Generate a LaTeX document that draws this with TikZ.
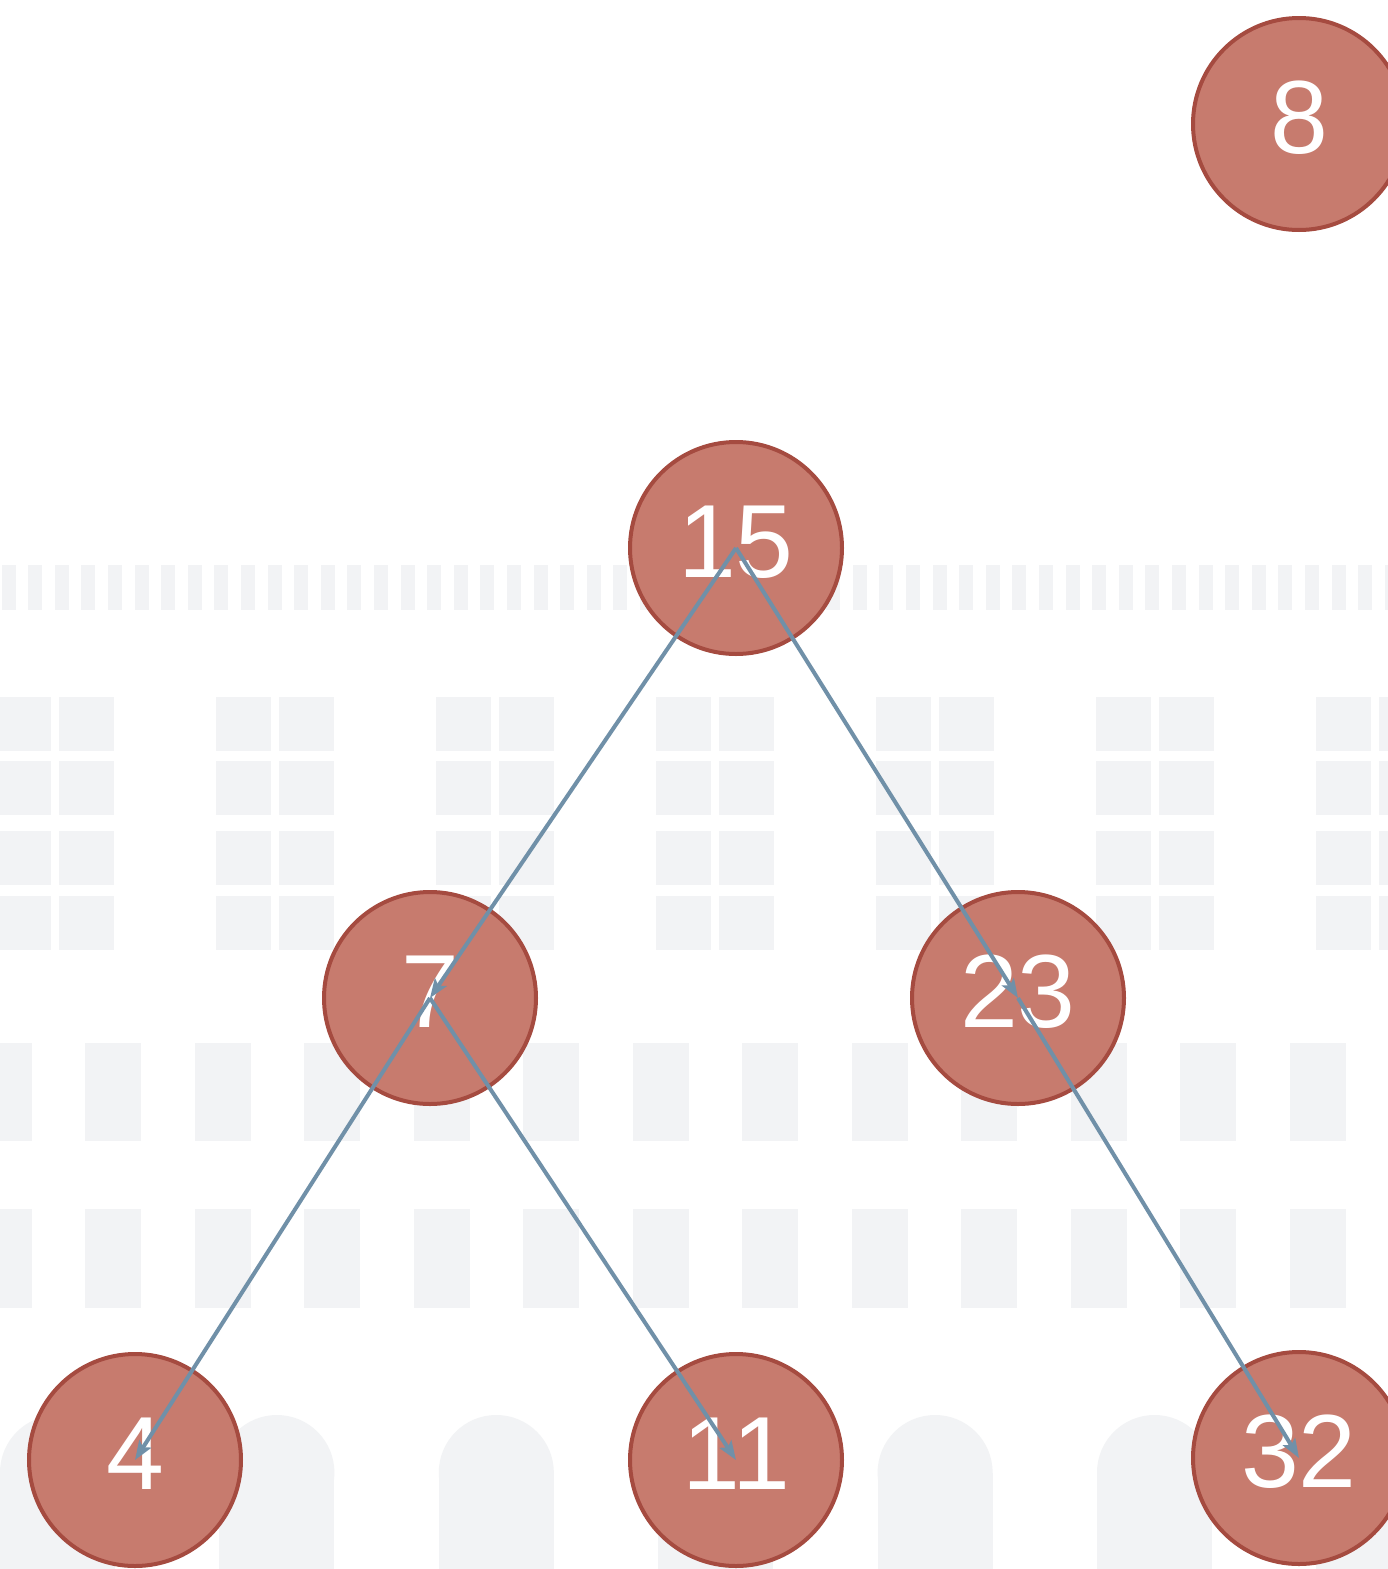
\documentclass[tikz,border=0pt]{standalone}
\usepackage{fontspec}
\setmainfont{Liberation Sans}
\usetikzlibrary{arrows.meta}
\definecolor{bggray}{HTML}{F2F3F5}
\definecolor{nodefill}{HTML}{C77B6E}
\definecolor{nodeline}{HTML}{A54B40}
\definecolor{edgecol}{HTML}{7090A8}
\tikzset{
  bgshape/.style={fill=bggray},
  treenode/.style={circle,fill=nodefill,draw=nodeline,line width=4pt,minimum size=212pt,inner sep=0pt,
    text=white,font=\fontsize{104}{104}\selectfont,text height=75pt,text depth=16pt},
  treeedge/.style={draw=edgecol,line width=4pt,-{Stealth[length=19pt,width=14pt,inset=4pt]}}
}
\begin{document}
\begin{tikzpicture}[x=1pt,y=-1pt]
\useasboundingbox (0,0) rectangle (1388,1569);
\clip (0,0) rectangle (1388,1569);
\fill[white] (0,0) rectangle (1388,1569);
% strip of small bars
\foreach \k in {0,...,52} \fill[bgshape] ({1.5+26.6*\k},565) rectangle +(14,45);
% grid of squares
\foreach \g in {0,...,6} {
  \foreach \yy in {697,761,831,896} {
    \fill[bgshape] ({-4+220*\g},\yy) rectangle +(55,54);
    \fill[bgshape] ({59+220*\g},\yy) rectangle +(55,54);
  }
}
% two bands of rectangles
\foreach \k in {0,...,12} {
  \fill[bgshape] ({-24.5+109.5*\k},1043) rectangle +(56,98);
  \fill[bgshape] ({-24.5+109.5*\k},1209) rectangle +(56,99);
}
% arches
\foreach \k in {0,...,6} {
  \fill[bgshape] ({57.5+219.4*\k},1472.5) circle[radius=57.5];
  \fill[bgshape] ({219.4*\k},1472.5) rectangle +(115,100);
}
% nodes
\node[treenode] (n8)  at (1299,124)  {8};
\node[treenode] (n15) at (736,548)   {15};
\node[treenode] (n7)  at (430,998)   {7};
\node[treenode] (n23) at (1018,998)  {23};
\node[treenode] (n4)  at (135,1460)  {4};
\node[treenode] (n11) at (736,1460)  {11};
\node[treenode] (n32) at (1299,1458) {32};
% edges
\draw[treeedge] (n15.center) -- (n7.center);
\draw[treeedge] (n15.center) -- (n23.center);
\draw[treeedge] (n7.center) -- (n4.center);
\draw[treeedge] (n7.center) -- (n11.center);
\draw[treeedge] (n23.center) -- (n32.center);
\end{tikzpicture}
\end{document}
